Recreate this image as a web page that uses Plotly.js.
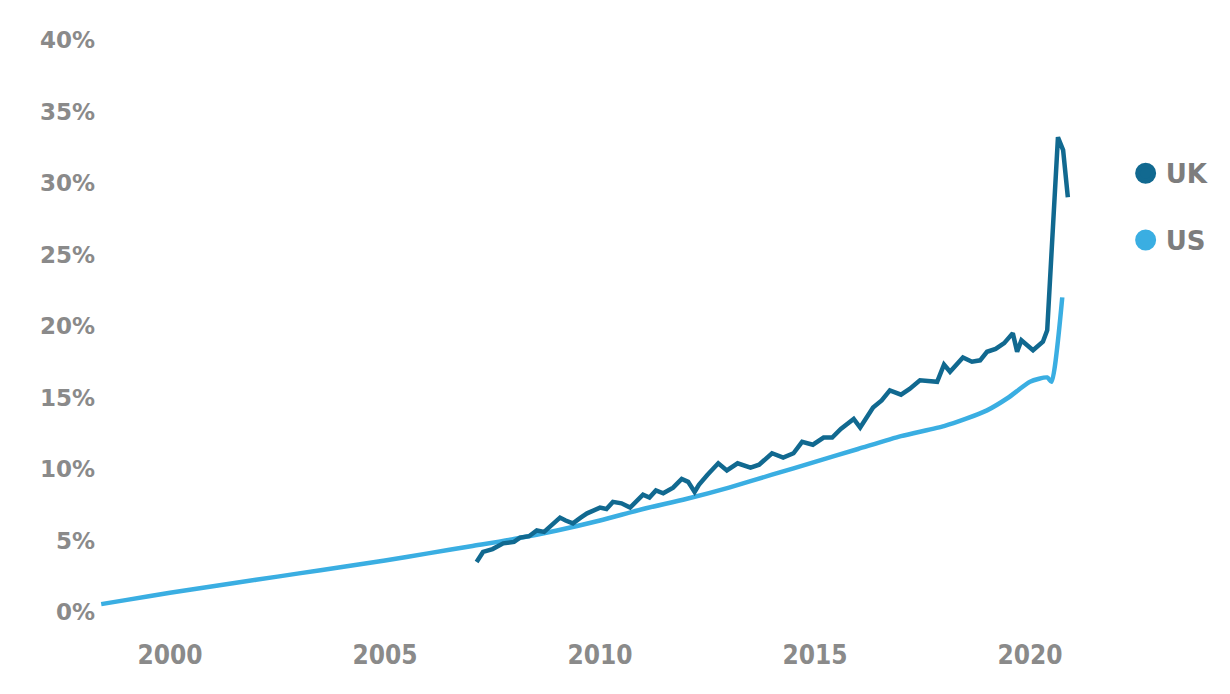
<!DOCTYPE html>
<html>
<head>
<meta charset="utf-8">
<script src="https://cdn.plot.ly/plotly-3.0.1.min.js"></script>
<style>html,body{margin:0;padding:0;background:#fff;}#chart{width:1230px;height:694px;}</style>
</head>
<body>
<div id="chart"></div>
<script>
const usYears = [1998.4, 1999, 2000, 2001, 2002, 2003, 2004, 2005, 2006, 2007, 2008, 2009, 2010, 2011, 2012, 2013, 2014, 2015, 2016, 2017, 2018, 2018.5, 2019, 2019.5, 2020, 2020.4, 2020.5, 2020.75];
const usValues = [0.55, 0.85, 1.35, 1.8, 2.25, 2.7, 3.15, 3.6, 4.1, 4.6, 5.1, 5.7, 6.4, 7.2, 7.9, 8.7, 9.6, 10.5, 11.4, 12.3, 13.0, 13.5, 14.1, 15.0, 16.1, 16.4, 16.1, 22.0];

const ukYears = [2007.13, 2007.28, 2007.5, 2007.75, 2008.0, 2008.14, 2008.35, 2008.53, 2008.7, 2008.84, 2009.07, 2009.2, 2009.37, 2009.55, 2009.7, 2010.0, 2010.15, 2010.3, 2010.5, 2010.7, 2011.0, 2011.15, 2011.3, 2011.47, 2011.7, 2011.9, 2012.05, 2012.2, 2012.3, 2012.5, 2012.75, 2012.95, 2013.2, 2013.5, 2013.7, 2014.0, 2014.26, 2014.5, 2014.7, 2014.95, 2015.2, 2015.4, 2015.6, 2015.9, 2016.05, 2016.35, 2016.55, 2016.74, 2017.0, 2017.2, 2017.44, 2017.84, 2018.0, 2018.14, 2018.44, 2018.65, 2018.84, 2019.0, 2019.2, 2019.4, 2019.6, 2019.7, 2019.8, 2020.07, 2020.3, 2020.4, 2020.47, 2020.58, 2020.65, 2020.77, 2020.88];
const ukValues = [3.5, 4.2, 4.4, 4.8, 4.9, 5.2, 5.3, 5.7, 5.6, 5.95, 6.6, 6.4, 6.2, 6.6, 6.9, 7.3, 7.2, 7.7, 7.6, 7.3, 8.2, 8.0, 8.5, 8.3, 8.7, 9.3, 9.1, 8.4, 8.9, 9.6, 10.4, 9.9, 10.4, 10.1, 10.3, 11.1, 10.8, 11.1, 11.9, 11.7, 12.2, 12.2, 12.8, 13.5, 12.9, 14.3, 14.8, 15.5, 15.2, 15.6, 16.2, 16.1, 17.3, 16.8, 17.8, 17.5, 17.6, 18.2, 18.4, 18.8, 19.5, 18.2, 19.0, 18.3, 18.9, 19.7, 23.9, 30.4, 33.2, 32.3, 29.0];

const yTicks = [0, 5, 10, 15, 20, 25, 30, 35, 40];
const yTickLabels = ['0%', '5%', '10%', '15%', '20%', '25%', '30%', '35%', '40%'];
const xTicks = [2000, 2005, 2010, 2015, 2020];
const xTickLabels = ['2000', '2005', '2010', '2015', '2020'];

const ukColor = '#116990';
const usColor = '#3aaee2';

const traces = [
  {x: usYears, y: usValues, mode: 'lines', line: {color: usColor, width: 4.5, shape: 'spline', smoothing: 0.6}, showlegend: false, hoverinfo: 'skip'},
  {x: ukYears, y: ukValues, mode: 'lines', line: {color: ukColor, width: 4.5}, showlegend: false, hoverinfo: 'skip'},
  {x: [null], y: [null], mode: 'markers', name: 'UK', legendgroup: 'uk', marker: {color: ukColor, size: 30, line: {color: ukColor, width: 8}}},
  {x: [null], y: [null], mode: 'markers', name: 'US', legendgroup: 'us', marker: {color: usColor, size: 30, line: {color: usColor, width: 8}}}
];

const layout = {
  width: 1230, height: 694,
  margin: {l: 100, r: 140, t: 40, b: 82},
  paper_bgcolor: '#fff', plot_bgcolor: '#fff',
  xaxis: {
    range: [1998.372, 2021.395],
    tickvals: xTicks, ticktext: xTickLabels,
    showgrid: false, zeroline: false, showline: false, ticks: '',
    ticklabelstandoff: 25,
    tickfont: {family: 'DejaVu Sans Condensed, Liberation Sans Narrow, DejaVu Sans', size: 26, color: '#8a8a8a', weight: 'bold'}
  },
  yaxis: {
    range: [0, 40],
    tickvals: yTicks, ticktext: yTickLabels,
    showgrid: false, zeroline: false, showline: false, ticks: '',
    ticklabelstandoff: 4,
    tickfont: {family: 'DejaVu Sans', size: 23, color: '#8a8a8a', weight: 'bold'}
  },
  legend: {
    x: 1.036, y: 0.808, xanchor: 'left', yanchor: 'top',
    tracegroupgap: 30, itemsizing: 'trace',
    font: {family: 'DejaVu Sans', size: 26, color: '#7d7d7d', weight: 'bold'}
  },
  showlegend: true
};

Plotly.newPlot('chart', traces, layout, {displayModeBar: false, staticPlot: true});
</script>
</body>
</html>
